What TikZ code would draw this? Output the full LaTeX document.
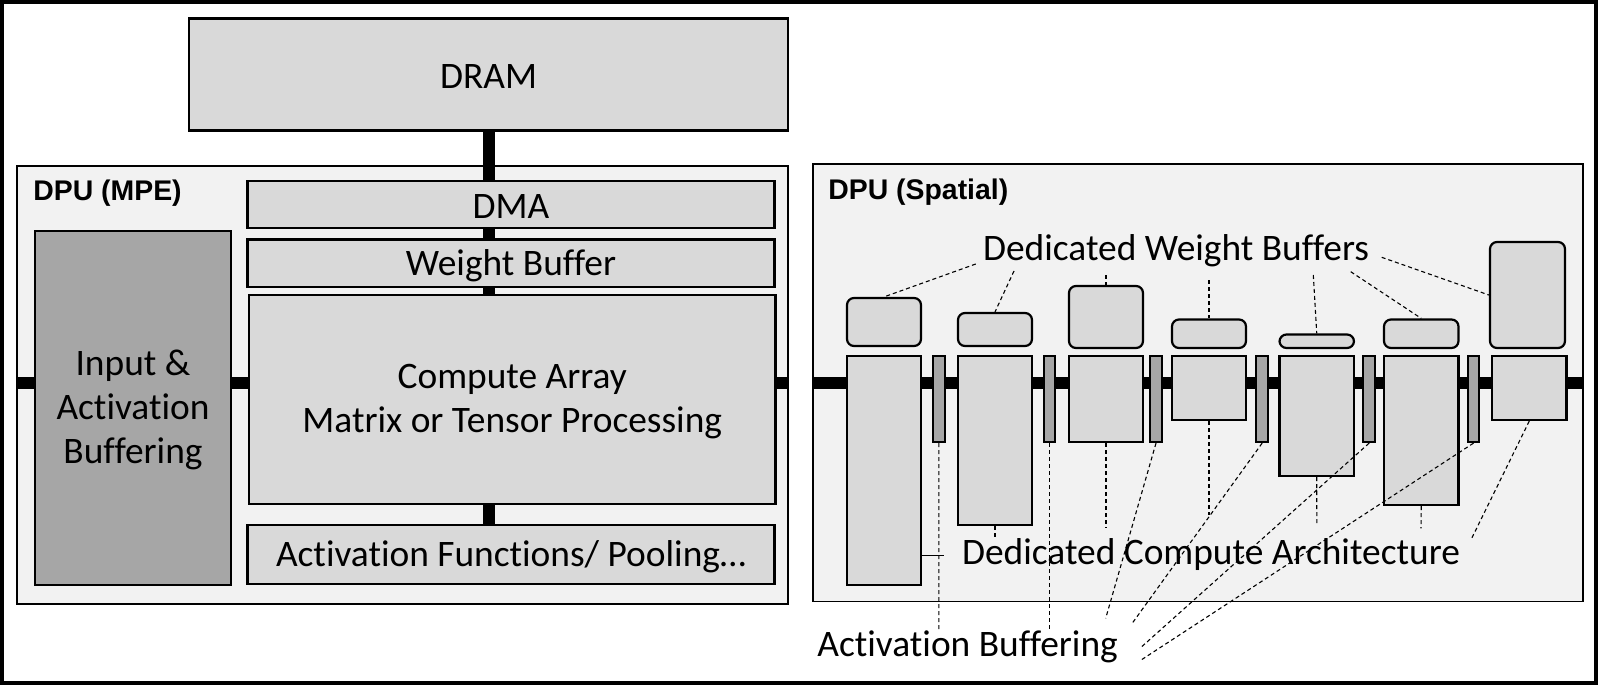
\documentclass[tikz,border=0pt]{standalone}
\usepackage{fontspec}
\setmainfont{Carlito}[Ligatures=NoCommon]
\newfontfamily\labelfont{Liberation Sans}
\usetikzlibrary{calc}
\definecolor{boxgray}{HTML}{D9D9D9}
\definecolor{darkbox}{HTML}{A6A6A6}
\definecolor{panelgray}{HTML}{F2F2F2}
\pgfdeclarelayer{panel}
\pgfdeclarelayer{bus}
\pgfsetlayers{panel,bus,main}
% style, name, x1, y1, x2, y2, text  (pixel coordinates, y downward)
\newcommand\mkbox[7]{%
  \node[#1, minimum width={(#5-#3)*0.5pt}, minimum height={(#6-#4)*0.5pt},
    label={[boxtext]center:#7}] (#2) at ({(#3+#5)/2},{(#4+#6)/2}) {};}
\tikzset{
  boxtext/.style={inner sep=0pt, align=center, yshift=-1.2pt,
    font=\fontsize{18.7}{22}\selectfont},
  lbox/.style={draw, line width=1.1pt, fill=boxgray, inner sep=0pt},
  dbox/.style={lbox, fill=darkbox},
  wbox/.style={lbox, rounded corners=3.5pt},
  abox/.style={draw, line width=1.1pt, fill=darkbox, inner sep=0pt},
  panelbox/.style={draw, line width=0.55pt, fill=panelgray, inner sep=0pt},
  bus/.style={line width=6pt},
  lead/.style={line width=0.55pt, dash pattern=on 2pt off 1.5pt},
  leadsolid/.style={line width=0.55pt},
  lbl/.style={inner sep=0pt, anchor=base west, font=\fontsize{18.7}{22}\selectfont},
  tlbl/.style={inner sep=0pt, anchor=base west, font=\labelfont\bfseries\fontsize{14.2}{16}\selectfont},
}
\begin{document}
\begin{tikzpicture}[x=0.5pt, y=-0.5pt]
\useasboundingbox (0,0) rectangle (1601,691);
\draw[line width=2pt] (1.5,1.5) rectangle (1596,683);

\begin{pgfonlayer}{panel}
\mkbox{panelbox}{mpe}{17}{166}{788}{604}{}
\mkbox{panelbox}{spat}{813}{164}{1583}{601.5}{}
\end{pgfonlayer}

\node[tlbl] (mpel) at (33,200) {DPU (MPE)};
\node[tlbl] (spl) at (828,199) {DPU (Spatial)};

% MPE side
\mkbox{lbox}{dram}{189}{18.5}{788}{130.5}{DRAM}
\mkbox{lbox}{dma}{247.5}{181}{774.5}{228}{DMA}
\mkbox{lbox}{wbuf}{247.5}{239.5}{774.5}{287}{Weight Buffer}
\mkbox{lbox}{comp}{249}{295}{775.5}{504}{Compute Array\\Matrix or Tensor Processing}
\mkbox{lbox}{actfn}{247.5}{525}{774.5}{584}{Activation Functions/ Pooling…}
\mkbox{dbox}{inact}{35}{231}{231}{585}{Input \&\\Activation\\Buffering}

% Spatial side: compute blocks
\mkbox{lbox}{b1}{847}{356}{921}{585}{}
\mkbox{lbox}{b2}{958}{356}{1032}{525}{}
\mkbox{lbox}{b3}{1069}{356}{1143}{442}{}
\mkbox{lbox}{b4}{1172}{356}{1246}{420}{}
\mkbox{lbox}{b5}{1279.5}{356}{1354}{476}{}
\mkbox{lbox}{b6}{1384}{356}{1458.5}{505}{}
\mkbox{lbox}{b7}{1492}{356}{1566.5}{420}{}
% activation buffers
\mkbox{abox}{a1}{932.7}{356}{945}{442}{}
\mkbox{abox}{a2}{1043.7}{356}{1055.3}{442}{}
\mkbox{abox}{a3}{1149.7}{356}{1162.3}{442}{}
\mkbox{abox}{a4}{1256}{356}{1268.3}{442}{}
\mkbox{abox}{a5}{1363.3}{356}{1375}{442}{}
\mkbox{abox}{a6}{1467.7}{356}{1479.3}{442}{}
% weight buffers
\mkbox{wbox}{w1}{847}{298}{921}{346}{}
\mkbox{wbox}{w2}{958}{313}{1032}{346}{}
\mkbox{wbox}{w3}{1069}{286}{1143}{348}{}
\mkbox{wbox}{w4}{1172}{319.5}{1246}{348}{}
\mkbox{wbox}{w5}{1279.5}{334.5}{1354}{348}{}
\mkbox{wbox}{w6}{1384}{319.5}{1458.5}{348}{}
\mkbox{wbox}{w7}{1490}{242}{1565}{348}{}

% buses
\coordinate (busy) at (0,383);
\begin{pgfonlayer}{bus}
\draw[bus] (dram.south) -- (dram.south |- actfn.north);
\draw[bus] (mpe.west |- busy) -- (mpe.east |- busy);
\draw[bus] (spat.west |- busy) -- (spat.east |- busy);
\end{pgfonlayer}

% labels
\node[lbl] (dwb) at (982.7,260) {Dedicated Weight Buffers};
\node[lbl] (dca) at (961.7,564) {Dedicated Compute Architecture};
\node[lbl] (ab) at (817,656.7) {Activation Buffering};

% weight buffer leaders
\coordinate (p1) at (975.7,264);
\coordinate (p2) at (1014,271);
\coordinate (p3) at (1106,275);
\coordinate (p4) at (1209,280);
\coordinate (p5) at (1313.3,275);
\coordinate (p6) at (1350.7,271.7);
\coordinate (p7) at (1381.7,257.3);
\draw[lead] (p1) -- (w1.north);
\draw[lead] (p2) -- (w2.north);
\draw[lead] (p3) -- (w3.north);
\draw[lead] (p4) -- (w4.north);
\draw[lead] (p5) -- (w5.north);
\draw[lead] (p6) -- (w6.north);
\draw[lead] (p7) -- (w7.west);

% compute leaders
\coordinate (q1) at (944.3,555.7);
\coordinate (q2) at (995,538.3);
\coordinate (q3) at (1106,528.3);
\coordinate (q4) at (1209,515);
\coordinate (q5) at (1316.8,525);
\coordinate (q6) at (1421,528.3);
\coordinate (q7) at (1471.7,538.3);
\draw[leadsolid] (b1.east |- q1) -- (q1);
\draw[lead] (b2.south) -- (q2);
\draw[lead] (b3.south) -- (q3);
\draw[lead] (b4.south) -- (q4);
\draw[lead] (b5.south) -- (q5);
\draw[lead] (b6.south) -- (q6);
\draw[lead] (b7.south) -- (q7);

% activation leaders
\coordinate (r1) at (938.8,629.3);
\coordinate (r2) at (1049.5,629.3);
\coordinate (r3) at (1105.7,618.3);
\coordinate (r4) at (1131.7,624);
\coordinate (r5) at (1141.7,646.7);
\coordinate (r6) at (1140,660.7);
\draw[lead] (a1.south) -- (r1);
\draw[lead] (a2.south) -- (r2);
\draw[lead] (a3.south) -- (r3);
\draw[lead] (a4.south) -- (r4);
\draw[lead] (a5.south) -- (r5);
\draw[lead] (a6.south) -- (r6);
\end{tikzpicture}
\end{document}
